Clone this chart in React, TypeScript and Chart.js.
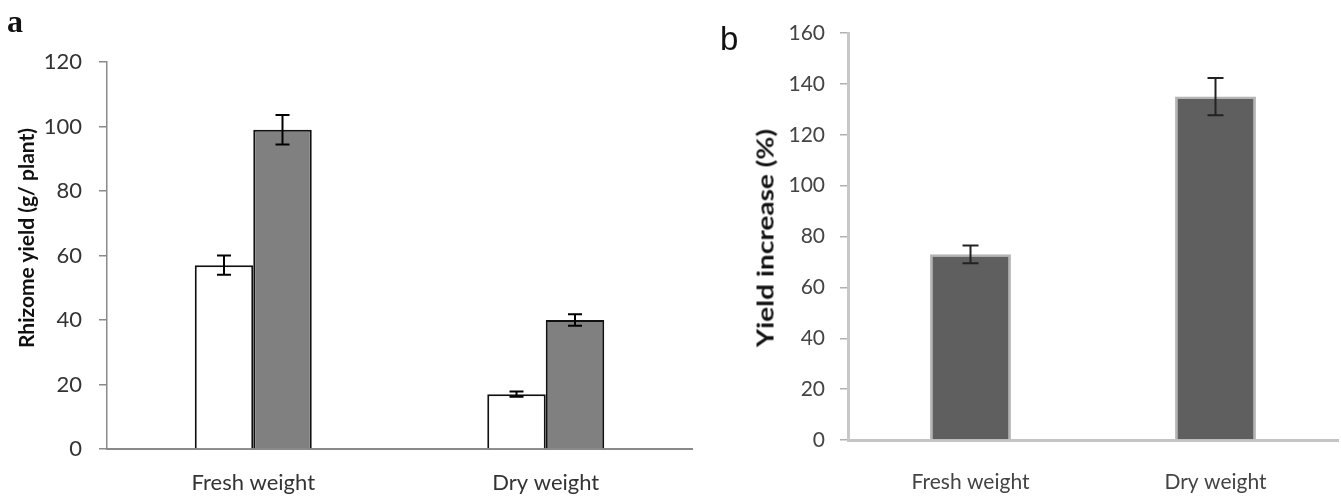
import React, { useEffect, useRef } from "react";
import { Chart, registerables } from "chart.js";

Chart.register(...registerables);

// Panel a data
const categoriesA = ["Fresh weight", "Dry weight"];
const controlYield = [57, 17];
const controlErr = [3, 0.8];
const inoculatedYield = [99, 40];
const inoculatedErr = [4.6, 1.8];
const ticksA = [0, 20, 40, 60, 80, 100, 120];
const titleA = "Rhizome yield (g/ plant)";

// Panel b data
const categoriesB = ["Fresh weight", "Dry weight"];
const yieldIncrease = [73, 135];
const increaseErr = [3.5, 7.3];
const ticksB = [0, 20, 40, 60, 80, 100, 120, 140, 160];
const titleB = "Yield increase (%)";

const FONT = "Lato, 'Open Sans', sans-serif";

const errorBarPlugin = {
  id: "errorBars",
  afterDatasetsDraw(chart: any) {
    const ctx = chart.ctx;
    const yScale = chart.scales.y;
    chart.data.datasets.forEach((ds: any, i: number) => {
      const meta = chart.getDatasetMeta(i);
      if (!ds.errors) return;
      meta.data.forEach((bar: any, j: number) => {
        const v = ds.data[j];
        const e = ds.errors[j];
        const yTop = yScale.getPixelForValue(v + e);
        const yBot = yScale.getPixelForValue(v - e);
        const x = bar.x;
        const cap = ds.errCap || 7;
        ctx.save();
        ctx.strokeStyle = ds.errColor || "#000";
        ctx.lineWidth = ds.errWidth || 2;
        ctx.beginPath();
        ctx.moveTo(x, yTop);
        ctx.lineTo(x, yBot);
        ctx.moveTo(x - cap, yTop);
        ctx.lineTo(x + cap, yTop);
        ctx.moveTo(x - cap, yBot);
        ctx.lineTo(x + cap, yBot);
        ctx.stroke();
        ctx.restore();
      });
    });
  },
};

function makeConfigA(): any {
  return {
    type: "bar",
    data: {
      labels: categoriesA,
      datasets: [
        {
          data: controlYield,
          errors: controlErr,
          backgroundColor: "#ffffff",
          borderColor: "#111111",
          borderWidth: 2,
          borderSkipped: "start",
          errCap: 7,
        },
        {
          data: inoculatedYield,
          errors: inoculatedErr,
          backgroundColor: "#808080",
          borderColor: "#111111",
          borderWidth: 2,
          borderSkipped: "start",
          errCap: 7,
        },
      ],
    },
    options: {
      animation: false,
      responsive: false,
      events: [],
      layout: { padding: { top: 62, right: 8, bottom: 0, left: 0 } },
      plugins: { legend: { display: false }, tooltip: { enabled: false } },
      datasets: { bar: { categoryPercentage: 0.4, barPercentage: 1 } },
      scales: {
        x: {
          grid: { display: false },
          border: { display: true, color: "#8a8a8a", width: 2 },
          ticks: { color: "#333", font: { family: FONT, size: 22 }, padding: 13 },
          afterFit: (s: any) => { s.height = 49; },
        },
        y: {
          min: 0,
          max: 120,
          afterBuildTicks: (s: any) => { s.ticks = ticksA.map((v) => ({ value: v })); },
          grid: { drawOnChartArea: false, tickLength: 8, color: "#8a8a8a", lineWidth: 1.5 },
          border: { display: true, color: "#8a8a8a", width: 1.5 },
          ticks: { color: "#333", font: { family: FONT, size: 22 }, padding: 17 },
          afterFit: (s: any) => { s.width = 107; },
        },
      },
    },
    plugins: [errorBarPlugin],
  };
}

function makeConfigB(): any {
  return {
    type: "bar",
    data: {
      labels: categoriesB,
      datasets: [
        {
          data: yieldIncrease,
          errors: increaseErr,
          backgroundColor: "#5f5f5f",
          borderColor: "#b4b4b4",
          borderWidth: 2.5,
          borderSkipped: "start",
          errCap: 8,
          errColor: "#222",
        },
      ],
    },
    options: {
      animation: false,
      responsive: false,
      events: [],
      layout: { padding: { top: 33, right: 3, bottom: 0, left: 0 } },
      plugins: { legend: { display: false }, tooltip: { enabled: false } },
      datasets: { bar: { categoryPercentage: 0.33, barPercentage: 1 } },
      scales: {
        x: {
          grid: { display: false },
          border: { display: true, color: "#c4c4c4", width: 3 },
          ticks: { color: "#444", font: { family: FONT, size: 21 }, padding: 22 },
          afterFit: (s: any) => { s.height = 58; },
        },
        y: {
          min: 0,
          max: 160,
          afterBuildTicks: (s: any) => { s.ticks = ticksB.map((v) => ({ value: v })); },
          grid: { drawOnChartArea: false, tickLength: 8, color: "#b0b0b0", lineWidth: 1.5 },
          border: { display: true, color: "#c8c8c8", width: 3 },
          ticks: { color: "#444", font: { family: FONT, size: 21 }, padding: 15 },
          afterFit: (s: any) => { s.width = 148; },
        },
      },
    },
    plugins: [errorBarPlugin],
  };
}

function ChartCanvas({ config, width, height, left }: any) {
  const ref = useRef<HTMLCanvasElement | null>(null);
  useEffect(() => {
    if (!ref.current) return;
    const chart = new Chart(ref.current, config());
    return () => chart.destroy();
  }, []);
  return (
    <canvas
      ref={ref}
      width={width}
      height={height}
      style={{ position: "absolute", left, top: 0, width, height }}
    />
  );
}

function VTitle({ text, cx, cy, size, stretch }: any) {
  return (
    <div
      style={{
        position: "absolute",
        left: cx,
        top: cy,
        transform: `translate(-50%, -50%) rotate(-90deg) scaleX(${stretch})`,
        whiteSpace: "nowrap",
        fontFamily: FONT,
        fontWeight: "bold",
        fontSize: size,
        lineHeight: 1,
        color: "#111",
      }}
    >
      {text}
    </div>
  );
}

export default function App() {
  return (
    <div
      style={{
        position: "absolute",
        left: 0,
        top: 0,
        width: 1341,
        height: 498,
        background: "#fff",
        overflow: "hidden",
      }}
    >
      <ChartCanvas config={makeConfigA} width={700} height={498} left={0} />
      <ChartCanvas config={makeConfigB} width={641} height={498} left={700} />
      <VTitle text={titleA} cx={25} cy={238} size={21} stretch={1} />
      <VTitle text={titleB} cx={765} cy={238} size={23} stretch={1.22} />
      <div
        style={{
          position: "absolute",
          left: 7,
          top: 3,
          fontFamily: "'Liberation Serif', serif",
          fontWeight: "bold",
          fontSize: 32,
          color: "#111",
        }}
      >
        a
      </div>
      <div
        style={{
          position: "absolute",
          left: 720,
          top: 20,
          fontFamily: "'Liberation Sans', sans-serif",
          fontSize: 33,
          color: "#111",
        }}
      >
        b
      </div>
    </div>
  );
}
